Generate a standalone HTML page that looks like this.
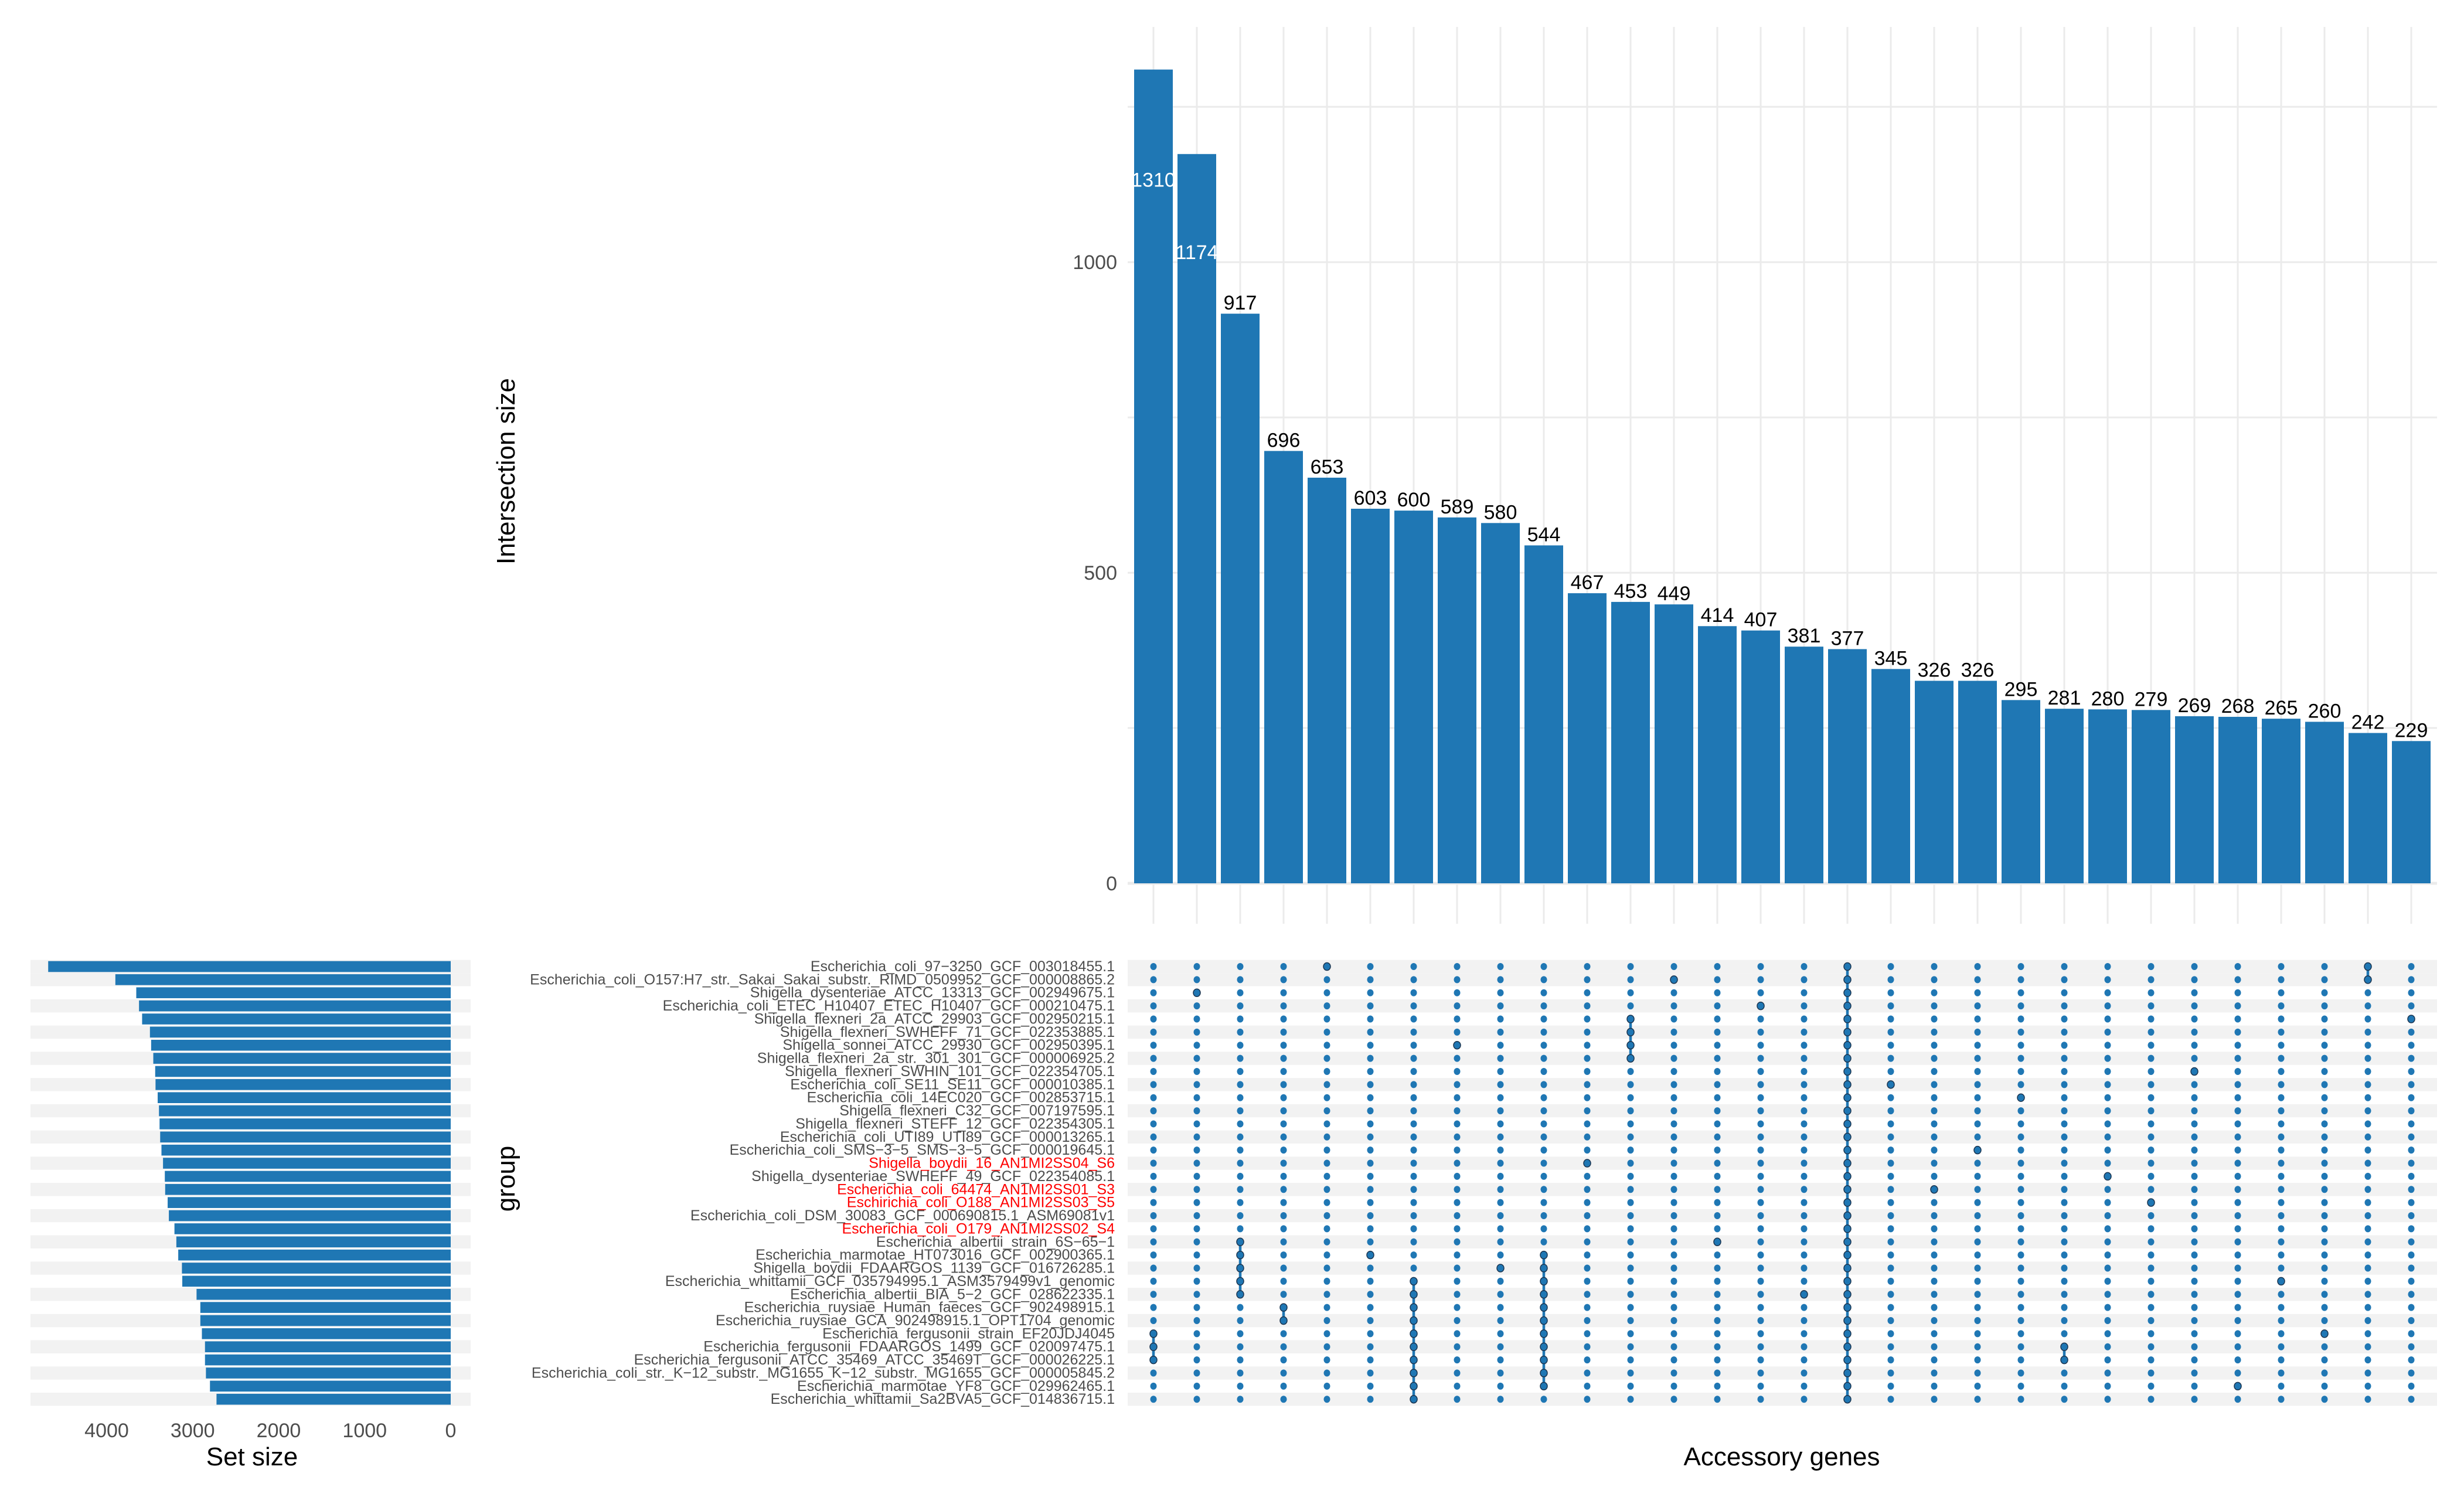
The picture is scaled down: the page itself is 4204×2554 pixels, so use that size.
<!DOCTYPE html>
<html><head><meta charset="utf-8"><style>
html,body{margin:0;padding:0;background:#fff;}
svg{display:block;}
text{font-family:"Liberation Sans",Arial,sans-serif;}
</style></head><body>
<svg id="chart" width="4204" height="2554" viewBox="0 0 4204 2554" xmlns="http://www.w3.org/2000/svg">
<g id="topg"></g>
<g id="leftg"></g>
<g id="matrixg"></g>
<text x="0" y="0" transform="translate(878,804) rotate(-90)" text-anchor="middle" font-size="44" fill="#000">Intersection size</text>
<text x="0" y="0" transform="translate(878,2011) rotate(-90)" text-anchor="middle" font-size="44" fill="#000">group</text>
<text x="3040" y="2500" text-anchor="middle" font-size="44" fill="#000">Accessory genes</text>
<text x="430" y="2500" text-anchor="middle" font-size="44" fill="#000">Set size</text>
</svg>
<script>
const intersectionSizes = [1310,1174,917,696,653,603,600,589,580,544,467,453,449,414,407,381,377,345,326,326,295,281,280,279,269,268,265,260,242,229];
const yTicks = [0,500,1000];
const groups = [
"Escherichia_coli_97\u22123250_GCF_003018455.1",
"Escherichia_coli_O157:H7_str._Sakai_Sakai_substr._RIMD_0509952_GCF_000008865.2",
"Shigella_dysenteriae_ATCC_13313_GCF_002949675.1",
"Escherichia_coli_ETEC_H10407_ETEC_H10407_GCF_000210475.1",
"Shigella_flexneri_2a_ATCC_29903_GCF_002950215.1",
"Shigella_flexneri_SWHEFF_71_GCF_022353885.1",
"Shigella_sonnei_ATCC_29930_GCF_002950395.1",
"Shigella_flexneri_2a_str._301_301_GCF_000006925.2",
"Shigella_flexneri_SWHIN_101_GCF_022354705.1",
"Escherichia_coli_SE11_SE11_GCF_000010385.1",
"Escherichia_coli_14EC020_GCF_002853715.1",
"Shigella_flexneri_C32_GCF_007197595.1",
"Shigella_flexneri_STEFF_12_GCF_022354305.1",
"Escherichia_coli_UTI89_UTI89_GCF_000013265.1",
"Escherichia_coli_SMS\u22123\u22125_SMS\u22123\u22125_GCF_000019645.1",
"Shigella_boydii_16_AN1MI2SS04_S6",
"Shigella_dysenteriae_SWHEFF_49_GCF_022354085.1",
"Escherichia_coli_64474_AN1MI2SS01_S3",
"Eschirichia_coli_O188_AN1MI2SS03_S5",
"Escherichia_coli_DSM_30083_GCF_000690815.1_ASM69081v1",
"Escherichia_coli_O179_AN1MI2SS02_S4",
"Escherichia_albertii_strain_6S\u221265\u22121",
"Escherichia_marmotae_HT073016_GCF_002900365.1",
"Shigella_boydii_FDAARGOS_1139_GCF_016726285.1",
"Escherichia_whittamii_GCF_035794995.1_ASM3579499v1_genomic",
"Escherichia_albertii_BIA_5\u22122_GCF_028622335.1",
"Escherichia_ruysiae_Human_faeces_GCF_902498915.1",
"Escherichia_ruysiae_GCA_902498915.1_OPT1704_genomic",
"Escherichia_fergusonii_strain_EF20JDJ4045",
"Escherichia_fergusonii_FDAARGOS_1499_GCF_020097475.1",
"Escherichia_fergusonii_ATCC_35469_ATCC_35469T_GCF_000026225.1",
"Escherichia_coli_str._K\u221212_substr._MG1655_K\u221212_substr._MG1655_GCF_000005845.2",
"Escherichia_marmotae_YF8_GCF_029962465.1",
"Escherichia_whittamii_Sa2BVA5_GCF_014836715.1"];
const highlighted = [15,17,18,20];
const setSizes = [4680,3899,3656,3624,3588,3497,3483,3458,3436,3432,3407,3392,3385,3378,3363,3345,3324,3320,3291,3277,3212,3190,3168,3125,3121,2955,2911,2911,2893,2857,2857,2846,2799,2723];
const setTicks = [0,1000,2000,3000,4000];
const memberships = [[28,29,30],[2],[21,22,23,24,25],[26,27],[0],[22],[24,25,26,27,28,29,30,31,32,33],[6],[23],[22,23,24,25,26,27,28,29,30,31,32],[15],[4,5,6,7],[1],[21],[3],[25],[0,1,2,3,4,5,6,7,8,9,10,11,12,13,14,15,16,17,18,19,20,21,22,23,24,25,26,27,28,29,30,31,32,33],[9],[17],[14],[10],[29,30],[16],[18],[8],[32],[24],[28],[0,1],[4]];

const NS="http://www.w3.org/2000/svg";
const BLUE="#1f77b4";
function mk(parent,tag,attrs,txt){const e=document.createElementNS(NS,tag);for(const k in attrs)e.setAttribute(k,attrs[k]);if(txt!==undefined)e.textContent=txt;parent.appendChild(e);return e;}
const colX=i=>1968+74*i;
const yTop=v=>1507-v*1.0598;
const rowY=r=>1649+22.37*r;
const setX=v=>769-v*0.14675;

// top chart
const topG=document.getElementById('topg');
for(let v=0;v<=1250;v+=250){const l=mk(topG,'line',{x1:1924,x2:4158,y1:yTop(v),y2:yTop(v),stroke:"#ebebeb","stroke-width":v===0?5:3});

}
intersectionSizes.forEach((v,i)=>{const l=mk(topG,'line',{x1:colX(i),x2:colX(i),y1:46,y2:1576,stroke:"#ebebeb","stroke-width":3});

});
yTicks.forEach(t=>{const e=mk(topG,'text',{x:1906,y:yTop(t)+12,"text-anchor":"end","font-size":34,fill:"#4d4d4d"},String(t));

});
intersectionSizes.forEach((v,i)=>{
const r=mk(topG,'rect',{x:colX(i)-33,y:yTop(v),width:66,height:yTop(0)-yTop(v),fill:BLUE});


const inside=v>1100;
const t=mk(topG,'text',{x:colX(i),y:inside?yTop(v*0.856):yTop(v)-7,"text-anchor":"middle","font-size":34,fill:inside?"#fff":"#000"},String(v));


});

// left set size chart
const leftG=document.getElementById('leftg');
groups.forEach((g,r)=>{if(r===0||r%2===1){const s=mk(leftG,'rect',{x:52,y:rowY(r)-11.2,width:751,height:22.4,fill:"#f2f2f2"});

}});
setSizes.forEach((v,r)=>{const b=mk(leftG,'rect',{x:setX(v),y:rowY(r)-9.3,width:setX(0)-setX(v),height:18.6,fill:BLUE});

});
setTicks.forEach(t=>{const e=mk(leftG,'text',{x:setX(t),y:2452,"text-anchor":"middle","font-size":34,fill:"#4d4d4d"},String(t));

});

// matrix
const matG=document.getElementById('matrixg');
groups.forEach((g,r)=>{
if(r===0||r%2===1){const s=mk(matG,'rect',{x:1924,y:rowY(r)-11.2,width:2234,height:22.4,fill:"#f2f2f2"});

}
const red=highlighted.indexOf(r)>=0;
const t=mk(matG,'text',{x:1902,y:rowY(r)+8,"text-anchor":"end","font-size":25,fill:red?"#ff0000":"#4d4d4d"},g);


});
memberships.forEach((m,i)=>{
if(m.length>1){const l=mk(matG,'line',{x1:colX(i),x2:colX(i),y1:rowY(Math.min(...m)),y2:rowY(Math.max(...m)),stroke:BLUE,"stroke-width":4.5});

}
groups.forEach((g,r)=>{const act=m.indexOf(r)>=0;
const d=mk(matG,'ellipse',{cx:colX(i),cy:rowY(r),rx:act?6:5.5,ry:act?6.5:6,fill:BLUE,stroke:act?"#1b3550":"none","stroke-width":1.5});

});
});
</script>
</body></html>
